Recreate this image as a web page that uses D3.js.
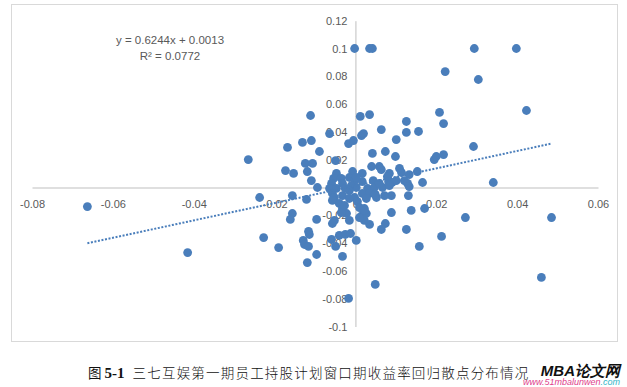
<!DOCTYPE html>
<html>
<head>
<meta charset="utf-8">
<script src="https://cdn.jsdelivr.net/npm/d3@7"></script>
<style>
  body { margin: 0; background: #fff; }
  svg { display: block; }
  .axis path { stroke: #bfbfbf; stroke-width: 1; }
  .axis text { fill: #595959; font-family: "Liberation Sans", Arial, sans-serif; font-size: 11px; }
</style>
</head>
<body>
<div id="chart"></div>
<script>
// 收益率 (x) 与 (y) pairs
var xVals = [-0.0002, 0.0035, 0.0042, 0.0294, 0.0398, 0.0222, 0.0304, 0.0423, 0.0208, 0.0218,
  -0.0111, 0.0012, 0.0035, -0.0131, -0.0109, -0.0168, -0.0265, -0.0064, 0.0015, 0.0020,
  -0.0017, -0.0005, 0.0064, 0.0101, 0.0126, 0.0126, 0.0156, -0.0089, 0.0042, 0.0074,
  0.0099, 0.0292, 0.0195, 0.0200, 0.0218, -0.0124, -0.0106, -0.0119, -0.0173, -0.0153,
  -0.0049, 0.0040, 0.0059, 0.0064, -0.0007, 0.0017, 0.0084, 0.0109, 0.0114, 0.0153,
  0.0133, -0.0047, -0.0054, -0.0059, -0.0064, -0.0094, -0.0015, -0.0002, -0.0035, 0.0017,
  0.0044, 0.0082, 0.0091, 0.0101, 0.0121, 0.0129, 0.0133, 0.0166, 0.0341, -0.0109,
  -0.0047, -0.0057, -0.0032, 0.0067, 0.0084, 0.0030, 0.0047, -0.0010, 0.0002, 0.0017,
  0.0035, 0.0052, 0.0089, 0.0131, -0.0002, 0.0027, 0.0072, -0.0032, -0.0052, -0.0237,
  -0.0156, -0.0121, -0.0663, -0.0415, -0.0156, -0.0161, -0.0096, -0.0057, -0.0040, -0.0032,
  -0.0022, -0.0057, -0.0035, 0.0005, 0.0010, -0.0015, 0.0017, 0.0027, 0.0138, 0.0171,
  0.0089, 0.0035, 0.0074, 0.0064, 0.0126, 0.0272, 0.0485, -0.0116, -0.0114, -0.0040,
  -0.0025, -0.0012, 0.0002, -0.0059, -0.0049, 0.0213, 0.0158, -0.0227, -0.0190, -0.0129,
  -0.0126, -0.0116, -0.0096, -0.0032, -0.0119, 0.0460, 0.0049, -0.0017, -0.0052, -0.0015,
  0.0022, 0.0010, -0.0027, 0.0022, 0.0059, 0.0049, 0.0079, 0.0022, 0.0002, -0.0015,
  -0.0025];
var yVals = [0.1000, 0.1000, 0.1000, 0.1000, 0.1000, 0.0834, 0.0777, 0.0554, 0.0540, 0.0460,
  0.0518, 0.0511, 0.0525, 0.0324, 0.0338, 0.0288, 0.0201, 0.0388, 0.0374, 0.0388,
  0.0316, 0.0338, 0.0417, 0.0345, 0.0475, 0.0396, 0.0403, 0.0259, 0.0245, 0.0259,
  0.0223, 0.0295, 0.0201, 0.0223, 0.0237, 0.0173, 0.0173, 0.0115, 0.0122, 0.0101,
  0.0194, 0.0151, 0.0151, 0.0129, 0.0115, 0.0101, 0.0101, 0.0137, 0.0108, 0.0115,
  0.0093, 0.0101, 0.0065, 0.0029, -0.0007, 0.0000, 0.0072, 0.0050, 0.0065, 0.0043,
  0.0050, 0.0043, 0.0036, 0.0050, 0.0050, 0.0029, 0.0007, 0.0036, 0.0036, 0.0050,
  -0.0007, -0.0043, 0.0029, 0.0000, 0.0014, -0.0007, 0.0000, 0.0014, 0.0000, -0.0043,
  -0.0043, -0.0072, -0.0058, -0.0058, -0.0072, -0.0079, -0.0058, -0.0058, -0.0072, -0.0072,
  -0.0058, -0.0086, -0.0137, -0.0468, -0.0187, -0.0230, -0.0230, -0.0259, -0.0115, -0.0151,
  -0.0187, -0.0093, -0.0180, -0.0101, -0.0144, -0.0079, -0.0201, -0.0187, -0.0165, -0.0151,
  -0.0180, -0.0266, -0.0259, -0.0302, -0.0302, -0.0216, -0.0216, -0.0316, -0.0338, -0.0345,
  -0.0338, -0.0331, -0.0381, -0.0374, -0.0424, -0.0352, -0.0424, -0.0360, -0.0432, -0.0381,
  -0.0410, -0.0424, -0.0482, -0.0496, -0.0540, -0.0647, -0.0697, -0.0798, -0.0237, -0.0237,
  -0.0237, -0.0216, -0.0129, -0.0151, 0.0029, -0.0050, 0.0079, -0.0165, 0.0072, -0.0022,
  -0.0007];

var xTicks = [-0.08, -0.06, -0.04, -0.02, 0, 0.02, 0.04, 0.06];
var yTicks = [-0.1, -0.08, -0.06, -0.04, -0.02, 0, 0.02, 0.04, 0.06, 0.08, 0.1, 0.12];

// linear trend as printed on the chart
var slope = 0.6244, intercept = 0.0013;
var trendX = [-0.0663, 0.0485];
var eqText = ["y = 0.6244x + 0.0013", "R² = 0.0772"];

var title = "三七互娱第一期员工持股计划窗口期收益率回归散点分布情况";

var data = xVals.map(function (d, i) { return { x: d, y: yVals[i] }; });

var W = 627, H = 387;
var svg = d3.select("#chart").append("svg")
  .attr("width", W)
  .attr("height", H);

// chart frame
svg.append("rect")
  .attr("x", 11.5).attr("y", 4.5)
  .attr("width", 606).attr("height", 337)
  .attr("fill", "#fff")
  .attr("stroke", "#d9d9d9");

var xScale = d3.scaleLinear().domain([-0.08, 0.06]).range([32, 598]);
var yScale = d3.scaleLinear().domain([-0.1, 0.12]).range([326.5, 20.7]);

var fmt = function (d) { return String(d); };

svg.append("g")
  .attr("class", "x axis")
  .attr("transform", "translate(0," + yScale(0) + ")")
  .call(d3.axisBottom(xScale).tickValues(xTicks).tickSize(0).tickPadding(13).tickFormat(fmt));

svg.append("g")
  .attr("class", "y axis")
  .attr("transform", "translate(" + xScale(0) + ",0)")
  .call(d3.axisLeft(yScale).tickValues(yTicks).tickSize(0).tickPadding(8).tickFormat(fmt));

svg.selectAll(".dot")
  .data(data)
  .enter().append("circle")
  .attr("class", "dot")
  .attr("cx", function (d) { return xScale(d.x); })
  .attr("cy", function (d) { return yScale(d.y); })
  .attr("r", 4.4)
  .attr("fill", "#4a7ebb");

var line = d3.line()
  .x(function (d) { return xScale(d); })
  .y(function (d) { return yScale(slope * d + intercept); });

svg.append("path")
  .datum(trendX)
  .attr("d", line)
  .attr("fill", "none")
  .attr("stroke", "#4a7ebb")
  .attr("stroke-width", 2)
  .attr("stroke-dasharray", "2,1.6");

svg.selectAll(".eq")
  .data(eqText)
  .enter().append("text")
  .attr("class", "eq")
  .attr("x", 170)
  .attr("y", function (d, i) { return 44 + i * 16; })
  .attr("text-anchor", "middle")
  .style("font-family", "Liberation Sans, Arial, sans-serif")
  .style("font-size", "11.5px")
  .style("fill", "#595959")
  .text(function (d) { return d; });

// caption
var cap = svg.append("text")
  .attr("x", 88)
  .attr("y", 378)
  .style("font-size", "13.5px")
  .style("fill", "#111");
cap.append("tspan")
  .style("font-family", "Noto Sans CJK SC, sans-serif")
  .text("图 ");
cap.append("tspan")
  .style("font-family", "Liberation Serif, serif")
  .style("font-weight", "bold")
  .style("font-size", "15px")
  .text("5-1");
cap.append("tspan")
  .attr("dx", 8)
  .style("font-family", "Noto Sans CJK SC, sans-serif")
  .style("font-weight", "300")
  .style("letter-spacing", "1.2px")
  .text(title);

// watermark
svg.append("rect")
  .attr("x", 530).attr("y", 362).attr("width", 97).attr("height", 25)
  .attr("fill", "#fff").attr("opacity", 0.6);
svg.append("text")
  .attr("x", 620).attr("y", 376)
  .attr("text-anchor", "end")
  .style("font-family", "Liberation Sans, Arial, sans-serif")
  .style("font-weight", "bold")
  .style("font-style", "italic")
  .style("font-size", "15px")
  .style("fill", "#111")
  .text("MBA论文网");
var wm = svg.append("text")
  .attr("x", 620).attr("y", 385)
  .attr("text-anchor", "end")
  .style("font-family", "Liberation Sans, Arial, sans-serif")
  .style("font-style", "italic")
  .style("font-size", "9px");
wm.append("tspan").style("fill", "#e0408c").text("www.51mbalunwen");
wm.append("tspan").style("fill", "#35b6c8").text(".com");
</script>
</body>
</html>
